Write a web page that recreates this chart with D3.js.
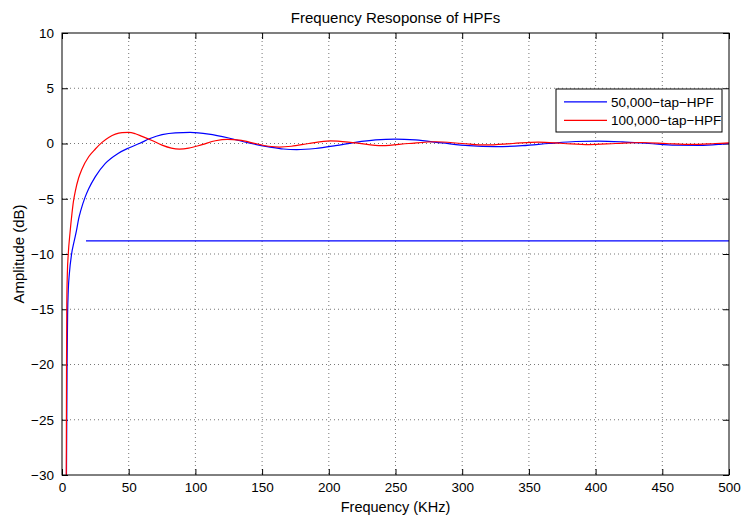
<!DOCTYPE html>
<html>
<head>
<meta charset="utf-8">
<script src="https://cdn.jsdelivr.net/npm/d3@7"></script>
<style>
  body { margin: 0; background: #fff; }
  text { font-family: "Liberation Sans", Arial, sans-serif; fill: #000; }
</style>
</head>
<body>
<div id="chart"></div>
<script>
// series: [frequency kHz, amplitude dB]
const tap50k = [
  [3.3,-31],[3.8,-20],[4.2,-15.5],[4.7,-13.3],[5.5,-11.8],[7.2,-10],[9,-8.9],[11,-7.8],
  [12.5,-6.8],[14,-6.1],[17.2,-4.9],[20,-4.1],[25,-3.0],[32.5,-1.8],[42,-0.9],[50,-0.4],
  [58,0],[66,0.45],[75,0.8],[85,0.97],[96,1.0],[110,0.85],[125,0.5],[140,0.05],[155,-0.3],
  [166,-0.5],[176,-0.55],[190,-0.45],[205,-0.2],[220,0.1],[235,0.32],[250,0.4],[265,0.32],
  [285,0.05],[305,-0.2],[325,-0.28],[345,-0.2],[365,0],[385,0.18],[402,0.22],[420,0.15],
  [440,0],[460,-0.15],[478,-0.17],[495,-0.05],[500,0]
];
const tap100k = [
  [3.2,-31],[3.4,-20],[3.6,-14.5],[4.0,-11.8],[4.7,-10],[6,-8.1],[7.5,-6.3],[8.5,-5.3],
  [10,-4.3],[12.5,-3.1],[15,-2.3],[20,-1.2],[25,-0.5],[30,0.1],[35,0.55],[40,0.85],
  [45,0.98],[50,1.0],[55,0.88],[60,0.65],[67,0.3],[75,-0.15],[82,-0.42],[88,-0.5],
  [95,-0.42],[105,-0.1],[115,0.25],[124,0.38],[133,0.3],[145,0],[155,-0.25],[163,-0.32],
  [172,-0.25],[185,0],[201,0.24],[220,0.05],[240,-0.2],[260,0],[280,0.16],[300,0],
  [318,-0.13],[338,0],[357,0.12],[376,0],[395,-0.1],[415,0],[434,0.09],[453,0],
  [472,-0.08],[490,0],[500,0.05]
];
// flat blue line
const flatLevel = -8.82;
const flatStart = 18;

const xTicks = [0,50,100,150,200,250,300,350,400,450,500];
const yTicks = [-30,-25,-20,-15,-10,-5,0,5,10];
const seriesNames = ['50,000\u2212tap\u2212HPF','100,000\u2212tap\u2212HPF'];
const seriesColors = ['#0000ff','#ff0000'];

const width = 742, height = 515;
const margin = {top: 33, right: 13, bottom: 40, left: 62};
const iw = width - margin.left - margin.right;
const ih = height - margin.top - margin.bottom;

const x = d3.scaleLinear().domain([0,500]).range([0, iw]);
const y = d3.scaleLinear().domain([-30,10]).range([ih, 0]);

const svg = d3.select('#chart').append('svg')
  .attr('width', width).attr('height', height);

svg.append('defs').append('clipPath').attr('id','plotclip')
  .append('rect').attr('width', iw).attr('height', ih);

const g = svg.append('g').attr('transform', `translate(${margin.left},${margin.top})`);

// grid
g.append('g').selectAll('line').data(xTicks.slice(1,-1)).enter().append('line')
  .attr('x1', d => x(d)).attr('x2', d => x(d)).attr('y1', 0).attr('y2', ih)
  .attr('stroke', '#777').attr('stroke-width', 1).attr('stroke-dasharray', '1,3');
g.append('g').selectAll('line').data(yTicks.slice(1,-1)).enter().append('line')
  .attr('y1', d => y(d)).attr('y2', d => y(d)).attr('x1', 0).attr('x2', iw)
  .attr('stroke', '#777').attr('stroke-width', 1).attr('stroke-dasharray', '1,3');

// axes (inward ticks on all sides, like MATLAB)
const xAxis = g.append('g').attr('transform', `translate(0,${ih})`)
  .call(d3.axisBottom(x).tickValues(xTicks).tickSizeInner(-6).tickSizeOuter(0).tickPadding(7));
const xTop = g.append('g')
  .call(d3.axisTop(x).tickValues(xTicks).tickSizeInner(-6).tickSizeOuter(0).tickFormat(''));
const yAxis = g.append('g')
  .call(d3.axisLeft(y).tickValues(yTicks).tickSizeInner(-6).tickSizeOuter(0).tickPadding(8));
const yRight = g.append('g').attr('transform', `translate(${iw},0)`)
  .call(d3.axisRight(y).tickValues(yTicks).tickSizeInner(-6).tickSizeOuter(0).tickFormat(''));

[xAxis, xTop, yAxis, yRight].forEach(a => {
  a.select('.domain').remove();
  a.selectAll('line').attr('stroke', '#000');
  a.selectAll('text').style('font-size', '13.5px')
    .style('font-family', '"Liberation Sans", Arial, sans-serif');
});
yAxis.selectAll('text').text(d => d < 0 ? '\u2212' + Math.abs(d) : d);

// lines
const line = d3.line().x(d => x(d[0])).y(d => y(d[1])).curve(d3.curveMonotoneX);
const plot = g.append('g').attr('clip-path', 'url(#plotclip)');

plot.append('path').datum(tap50k).attr('d', line)
  .attr('fill', 'none').attr('stroke', seriesColors[0]).attr('stroke-width', 1.2);
plot.append('line')
  .attr('x1', x(flatStart)).attr('x2', x(500)).attr('y1', y(flatLevel)).attr('y2', y(flatLevel))
  .attr('stroke', seriesColors[0]).attr('stroke-width', 1.2);
plot.append('path').datum(tap100k).attr('d', line)
  .attr('fill', 'none').attr('stroke', seriesColors[1]).attr('stroke-width', 1.2);

// box
g.append('rect').attr('width', iw).attr('height', ih)
  .attr('fill', 'none').attr('stroke', '#000').attr('stroke-width', 1);

// legend
const lg = svg.append('g').attr('transform', 'translate(556,89)');
lg.append('rect').attr('width', 166).attr('height', 43)
  .attr('fill', '#fff').attr('stroke', '#000').attr('stroke-width', 1);
seriesNames.forEach((name, i) => {
  const ly = 12.8 + i * 18.5;
  lg.append('line').attr('x1', 8).attr('x2', 51).attr('y1', ly).attr('y2', ly)
    .attr('stroke', seriesColors[i]).attr('stroke-width', 1.3);
  lg.append('text').attr('x', 55).attr('y', ly).attr('dy', '0.35em')
    .style('font-size', '13.5px').text(name);
});

// titles
svg.append('text').attr('x', margin.left + iw / 2).attr('y', 23)
  .attr('text-anchor', 'middle').style('font-size', '15px').text('Frequency Resoponse of HPFs');
svg.append('text').attr('x', margin.left + iw / 2).attr('y', 512)
  .attr('text-anchor', 'middle').style('font-size', '14.5px').text('Frequency (KHz)');
svg.append('text').attr('transform', `translate(24,${margin.top + ih / 2}) rotate(-90)`)
  .attr('text-anchor', 'middle').style('font-size', '15px').text('Amplitude (dB)');
</script>
</body>
</html>
